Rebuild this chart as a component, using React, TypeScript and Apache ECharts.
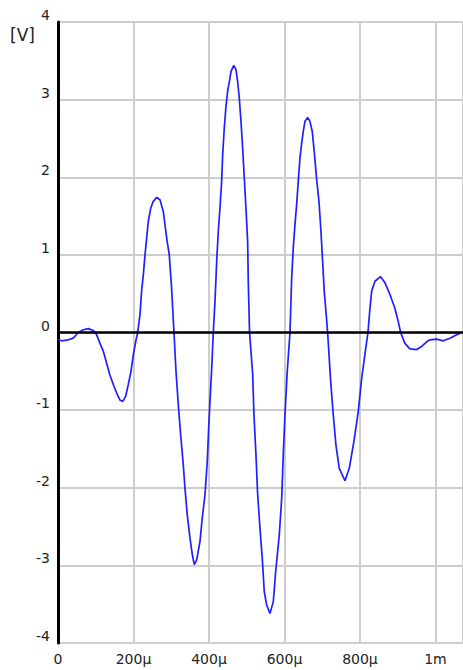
import React, { useEffect, useRef } from "react";
import * as echarts from "echarts";

// time in microseconds
const times: number[] = [
  0, 9.8, 27.3, 40.5, 53.8, 67.0, 80.3, 93.5, 102.5, 111.3, 120.0, 129.0, 137.7, 146.5, 155.5, 164.2, 171.4,
  179.3, 186.2, 193.4, 199.5, 205.8, 211.1, 217.2, 221.7, 226.0, 230.5, 235.0, 239.2, 245.6, 252.4, 261.5,
  270.2, 278.9, 287.9, 294.8, 298.5, 301.2, 307.3, 312.6, 318.7, 325.0, 331.9, 336.4, 342.5, 349.7, 355.8,
  361.1, 367.4, 376.2, 382.2, 389.4, 395.5, 399.2, 402.6, 407.2, 411.4, 415.9, 420.4, 424.6, 429.1, 433.6,
  436.3, 440.5, 445.0, 449.5, 453.8, 458.3, 465.4, 471.5, 476.0, 480.3, 484.8, 489.3, 493.5, 498.0, 502.5,
  504.1, 507.5, 515.7, 519.2, 524.5, 529.0, 535.1, 541.2, 546.5, 552.8, 561.6, 570.3, 576.7, 586.2, 592.6,
  596.8, 601.3, 607.4, 614.6, 619.1, 623.3, 627.8, 632.3, 636.6, 641.1, 645.6, 649.8, 654.3, 661.5, 667.5,
  673.6, 678.9, 685.3, 691.4, 696.7, 701.2, 705.4, 709.9, 714.4, 722.4, 729.3, 736.4, 745.2, 760.3, 771.7,
  784.1, 795.5, 804.5, 817.7, 821.2, 826.5, 831.0, 839.7, 854.3, 866.2, 879.5, 892.7, 901.5, 907.8, 919.2,
  932.4, 950.2, 963.4, 976.7, 985.4, 1003.2, 1020.6, 1038.4, 1056.2, 1069.4,
];

// voltage in V
const volts: number[] = [
  -0.09, -0.107, -0.094, -0.073, 0, 0.035, 0.05, 0.026, -0.03, -0.14, -0.24, -0.4, -0.55, -0.67, -0.78, -0.87, -0.89,
  -0.82, -0.67, -0.5, -0.29, -0.12, 0, 0.23, 0.55, 0.74, 1.0, 1.22, 1.43, 1.6, 1.69, 1.74,
  1.71, 1.56, 1.22, 1.0, 0.74, 0.55, 0, -0.5, -0.93, -1.32, -1.7, -2.01, -2.35, -2.65, -2.86,
  -2.99, -2.93, -2.69, -2.39, -2.09, -1.66, -1.23, -0.89, -0.46, 0, 0.4, 0.915, 1.3, 1.6, 1.95,
  2.29, 2.63, 2.91, 3.11, 3.23, 3.36, 3.44, 3.39, 3.23, 3.02, 2.72, 2.37, 1.99, 1.6, 1.17,
  0.66, 0, -0.53, -1.06, -1.58, -2.09, -2.52, -2.91, -3.34, -3.51, -3.62, -3.47, -3.08, -2.61, -2.14,
  -1.58, -1.06, -0.5, 0, 0.7, 1.09, 1.39, 1.65, 1.95, 2.25, 2.44, 2.59, 2.72, 2.77, 2.72,
  2.59, 2.33, 1.97, 1.69, 1.3, 0.91, 0.53, 0.27, 0, -0.63, -1.06, -1.45, -1.75, -1.91, -1.75,
  -1.4, -1.02, -0.59, -0.12, 0, 0.31, 0.53, 0.66, 0.72, 0.64, 0.49, 0.31, 0.14, 0, -0.14,
  -0.21, -0.22, -0.18, -0.12, -0.094, -0.086, -0.107, -0.073, -0.03, 0,
];

const xTickLabels: Record<number, string> = { 0: "0", 200: "200μ", 400: "400μ", 600: "600μ", 800: "800μ", 1000: "1m" };
const yUnit = "[V]";

export default function App() {
  const ref = useRef<HTMLDivElement>(null);
  useEffect(() => {
    if (!ref.current) return;
    const chart = echarts.init(ref.current, null, { renderer: "svg" });
    const font = "DejaVu Sans";
    chart.setOption({
      animation: false,
      grid: { left: 58, right: 0, top: 22, bottom: 27 },
      graphic: [
        {
          type: "text",
          left: 10,
          top: 26,
          style: { text: yUnit, fontFamily: font, fontSize: 17, fill: "#222" },
        },
      ],
      xAxis: {
        type: "value",
        min: 0,
        max: 1073,
        interval: 200,
        axisLine: { show: false },
        axisTick: { show: false },
        splitLine: { show: true, lineStyle: { color: "#cdcdcd", width: 2 } },
        axisLabel: {
          showMaxLabel: false,
          margin: 9,
          fontFamily: font,
          fontSize: 14,
          color: "#222",
          formatter: (v: number) => xTickLabels[v] ?? "",
        },
      },
      yAxis: {
        type: "value",
        min: -4,
        max: 4,
        interval: 1,
        axisLine: { show: true, lineStyle: { color: "#000", width: 3 } },
        axisTick: { show: false },
        splitLine: { show: true, lineStyle: { color: "#cdcdcd", width: 2 } },
        axisLabel: {
          margin: 8,
          fontFamily: font,
          fontSize: 14,
          color: "#222",
          verticalAlign: "bottom",
          lineHeight: 14,
        },
      },
      series: [
        {
          type: "line",
          data: times.map((t, i) => [t, volts[i]]),
          showSymbol: false,
          lineStyle: { color: "#1f1fff", width: 1.7 },
          markLine: {
            silent: true,
            symbol: "none",
            label: { show: false },
            lineStyle: { color: "#000", width: 2.5, type: "solid" },
            data: [{ yAxis: 0 }],
          },
          z: 3,
        },
      ],
    });
    return () => chart.dispose();
  }, []);
  return (
    <div
      ref={ref}
      style={{ position: "fixed", left: 0, top: 0, width: 463, height: 670, background: "#fff" }}
    />
  );
}
